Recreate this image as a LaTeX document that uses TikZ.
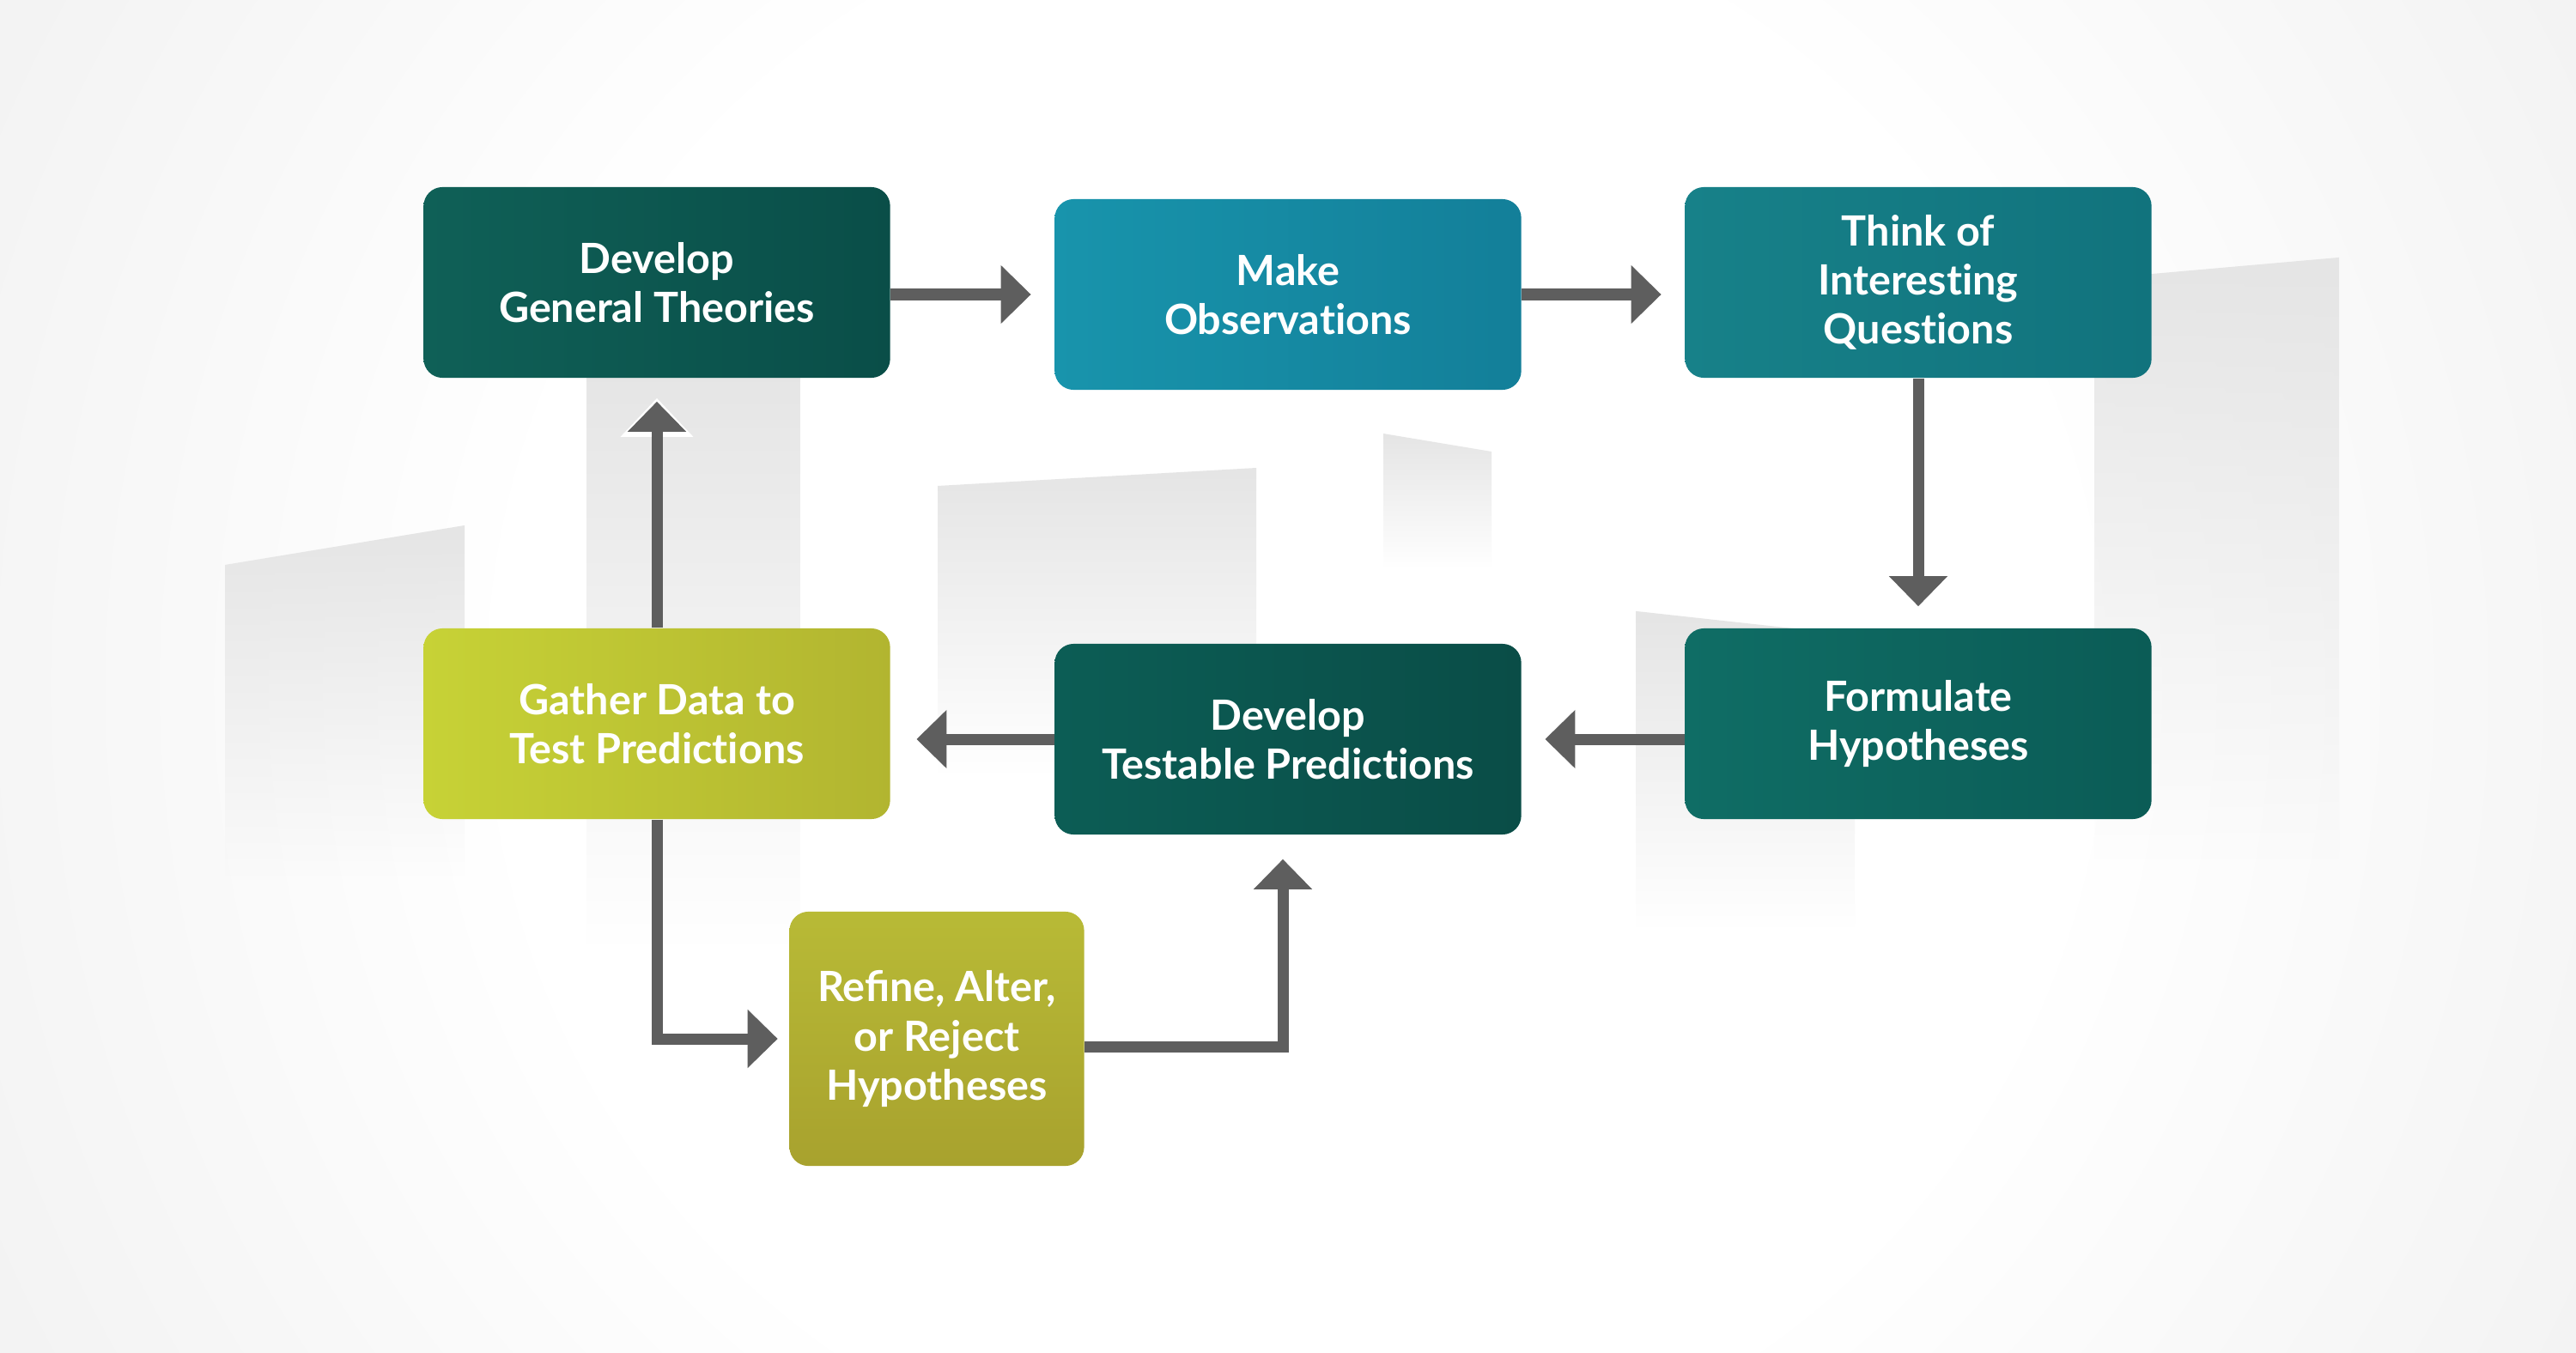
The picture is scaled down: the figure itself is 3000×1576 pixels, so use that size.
\documentclass[tikz,border=0pt]{standalone}
\usepackage{fontspec}
\setmainfont{Lato}
\usetikzlibrary{arrows.meta,fadings,calc}
\newcommand{\nti}{t\kern0pt i}
\definecolor{bgc}{HTML}{F3F3F3}
\definecolor{arr}{HTML}{5E5E5E}
\definecolor{aL}{HTML}{0F6057}\definecolor{aR}{HTML}{0A4E48}
\definecolor{bL}{HTML}{1894AC}\definecolor{bR}{HTML}{137F99}
\definecolor{cL}{HTML}{178189}\definecolor{cR}{HTML}{11737D}
\definecolor{dL}{HTML}{0F6D65}\definecolor{dR}{HTML}{0B5C56}
\definecolor{eL}{HTML}{0C5D55}\definecolor{eR}{HTML}{0A4D47}
\definecolor{fL}{HTML}{C7D236}\definecolor{fR}{HTML}{B2B530}
\definecolor{gL}{HTML}{B8BA36}\definecolor{gR}{HTML}{A8A22E}
\pgfdeclareradialshading{glow}{\pgfpoint{0bp}{0bp}}{color(0bp)=(white); color(12bp)=(white); color(22bp)=(bgc); color(50bp)=(bgc)}
\begin{document}
\begin{tikzpicture}[x=0.01cm,y=-0.01cm,
  box/.style={rounded corners=0.22cm, minimum width=5.43cm, minimum height=2.22cm, inner sep=0pt, align=center, text=white, font=\fontsize{13.8}{16.3}\selectfont\bfseries},
  conn/.style={draw=arr, line width=0.13cm, -{Triangle[length=0.35cm,width=0.66cm]}},
  halo/.style={draw=white, line width=0.13cm, -{Triangle[length=0.45cm,width=0.82cm]}},
  bldg/.style={fill=black!10, path fading=south}]
\useasboundingbox (0,0) rectangle (3000,1576);
\fill[bgc] (0,0) rectangle (3000,1576);
\begin{scope}
\clip (0,0) rectangle (3000,1576);
\shade[shading=glow] (1510,800) circle (19cm);
\end{scope}
% background buildings
\fill[bldg] (262,658) -- (541,612) -- (541,1020) -- (262,1020) -- cycle;
\fill[bldg] (683,420) -- (932,420) -- (932,1100) -- (683,1100) -- cycle;
\fill[bldg] (1092,566) -- (1463,545) -- (1463,900) -- (1092,900) -- cycle;
\fill[bldg] (1611,505) -- (1737,526) -- (1737,660) -- (1611,660) -- cycle;
\fill[bldg] (2439,325) -- (2724,300) -- (2724,1000) -- (2439,1000) -- cycle;
\fill[bldg] (1905,712) -- (2160,740) -- (2160,1080) -- (1905,1080) -- cycle;
% boxes
\node[box, left color=aL, right color=aR] (A) at (765,329) {Develop\\General Theories};
\node[box, left color=bL, right color=bR] (B) at (1500,343) {Make\\Observa\nti ons};
\node[box, left color=cL, right color=cR] (C) at (2234,329) {Think of\\Interes\nti ng\\Ques\nti ons};
\node[box, left color=dL, right color=dR] (D) at (2234,843) {Formulate\\Hypotheses};
\node[box, left color=eL, right color=eR] (E) at (1500,861) {Develop\\Testable Predic\nti ons};
\node[box, left color=fL, right color=fR] (F) at (765,843) {Gather Data to\\Test Predic\nti ons};
\node[box, minimum width=3.43cm, minimum height=2.96cm, top color=gL, bottom color=gR] (G) at (1091,1210) {Refine, Alter,\\or Reject\\Hypotheses};
% connectors
\draw[conn, shorten >=0.27cm] (A.east |- B.west) -- (B.west);
\draw[conn, shorten >=0.27cm] (B.east) -- (C.west |- B.east);
\draw[conn, shorten >=0.25cm] (C.south) -- (D.north);
\draw[conn, shorten >=0.27cm] (D.west |- E.east) -- (E.east);
\draw[conn, shorten >=0.30cm] (E.west) -- (F.east |- E.west);
\draw[halo, shorten >=0.23cm] (F.north) -- (A.south);
\draw[conn, shorten >=0.27cm] (F.north) -- (A.south);
\draw[conn, shorten >=0.13cm] (F.south) |- (G.west);
\draw[conn, shorten >=0.28cm] ($(G.east)+(0,9)$) -| ($(E.south)+(-6,0)$);
\end{tikzpicture}
\end{document}
